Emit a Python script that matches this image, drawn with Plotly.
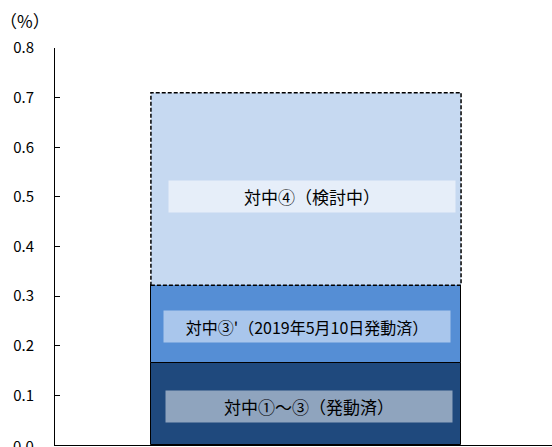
import plotly.graph_objects as go

# Data
segment_names = ["対中①～③（発動済）", "対中③'（2019年5月10日発動済）", "対中④（検討中）"]
segment_values = [0.165, 0.157, 0.388]
segment_colors = ["#1F497D", "#558ED5", "#C6D9F1"]
label_bg = ["#8FA4BE", "#A9C6EC", "#E6EEF9"]
y_ticks = [0.1, 0.2, 0.3, 0.4, 0.5, 0.6, 0.7, 0.8]
y_tick_text = ["0.1", "0.2", "0.3", "0.4", "0.5", "0.6", "0.7", "0.8"]
zero_label = "0.0"
unit_label = "（%）"

FONT = "Noto Sans CJK JP"
bar_x = 0
bar_w = 0.624

fig = go.Figure()
base = 0
bases = []
for i, (name, v) in enumerate(zip(segment_names, segment_values)):
    bases.append(base)
    fig.add_trace(go.Bar(
        x=[bar_x], y=[v], base=[base], width=[bar_w], name=name,
        marker=dict(color=segment_colors[i],
                    line=dict(color="black", width=1 if i < 2 else 0)),
        showlegend=False, hoverinfo="skip",
    ))
    base += v

# dashed outline around the top segment
top_b = bases[2]
top_t = bases[2] + segment_values[2]
fig.add_shape(type="rect", xref="x", yref="y",
              x0=bar_x - bar_w / 2, x1=bar_x + bar_w / 2,
              y0=top_b, y1=top_t,
              line=dict(color="black", width=1.5, dash="4px,2px"))

# label boxes
label_y = [0.078, 0.238, 0.50]
xshifts = [3, 1, 6]
label_sizes = [17, 16, 17]
for i, name in enumerate(segment_names):
    fig.add_annotation(
        x=bar_x, y=label_y[i], xref="x", yref="y", text=name,
        showarrow=False, bgcolor=label_bg[i], width=284, height=29,
        xshift=xshifts[i],
        font=dict(family=FONT, size=label_sizes[i], color="black"),
    )

fig.add_annotation(x=0, y=1, xref="paper", yref="paper", xanchor="left", yanchor="bottom",
                   xshift=-57, yshift=13, text=unit_label, showarrow=False,
                   font=dict(family=FONT, size=17, color="black"))

# zero label (partly cut by the page edge, as in the reference)
fig.add_annotation(x=0, y=0, xref="paper", yref="y", xanchor="right", yanchor="middle",
                   xshift=-19, text=zero_label, showarrow=False,
                   font=dict(family=FONT, size=15, color="black"))

fig.update_layout(
    width=552, height=447,
    margin=dict(l=55, r=0, t=48, b=2),
    paper_bgcolor="white", plot_bgcolor="white",
    bargap=0, barmode="overlay",
    xaxis=dict(range=[-0.505, 0.495], showticklabels=False, ticks="",
               showgrid=False, zeroline=False, showline=True,
               linecolor="black", linewidth=1),
    yaxis=dict(range=[0, 0.8], tickvals=y_ticks, ticktext=y_tick_text,
               ticks="inside", ticklen=5, tickcolor="black", tickwidth=1,
               showgrid=False, zeroline=False, showline=True,
               linecolor="black", linewidth=1, ticklabelstandoff=17,
               tickfont=dict(family=FONT, size=15, color="black")),
)

fig.write_html("out.html")
